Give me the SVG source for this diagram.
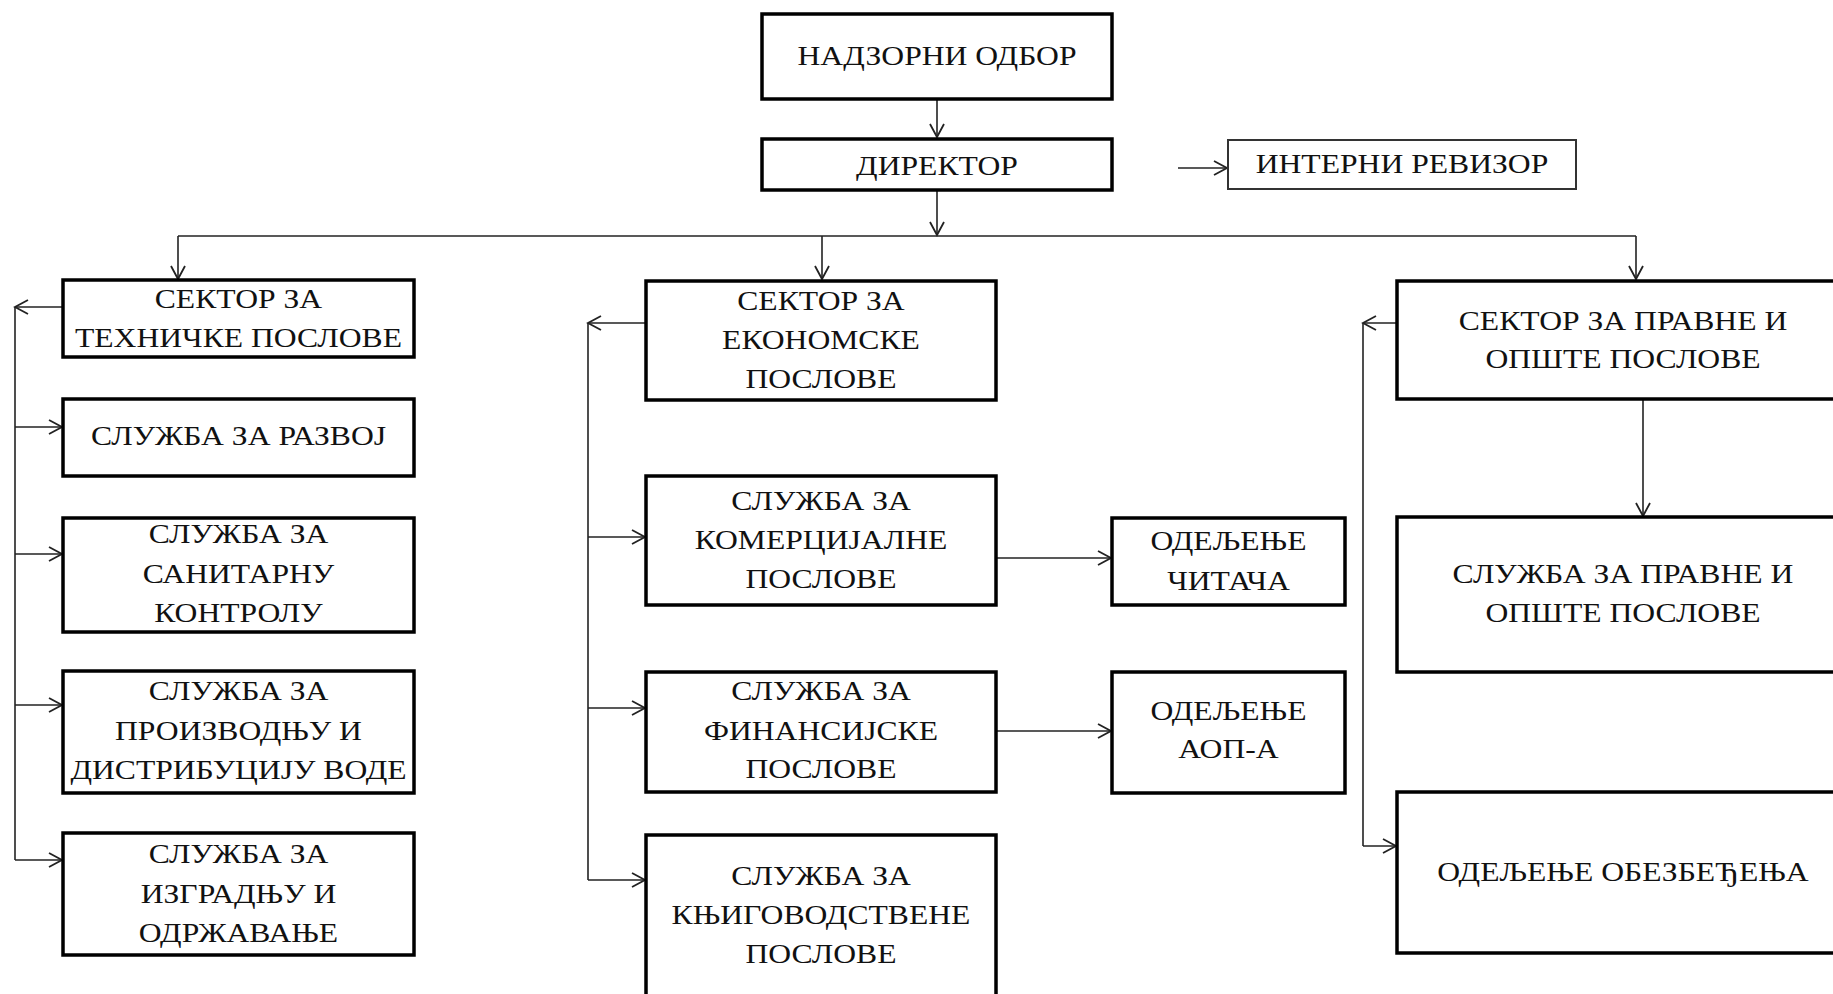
<svg xmlns="http://www.w3.org/2000/svg" width="1833" height="994" viewBox="0 0 1833 994">
<style>
.box{fill:#fff;stroke:#000;stroke-width:3.5}
.thin{fill:#fff;stroke:#333;stroke-width:2}
.t{font-family:"Liberation Serif","Times New Roman",serif;font-size:28px;fill:#111;text-anchor:middle}
.c{fill:none;stroke:#222;stroke-width:1.6}
.a{fill:none;stroke:#222;stroke-width:1.6;marker-end:url(#ah)}
</style>
<defs>
<marker id="ah" markerUnits="userSpaceOnUse" markerWidth="16" markerHeight="18" viewBox="0 0 16 18" refX="14" refY="9" orient="auto">
<path d="M1,2 L14,9 L1,16" fill="none" stroke="#222" stroke-width="1.8"/>
</marker>
</defs>
<rect width="1833" height="994" fill="#fff"/>
<g id="connectors">
<line class="a" x1="937" y1="99" x2="937" y2="137"/>
<line class="a" x1="937" y1="191" x2="937" y2="235"/>
<line class="a" x1="1178" y1="168" x2="1227" y2="168"/>
<line class="c" x1="178" y1="236" x2="1636" y2="236"/>
<line class="a" x1="178" y1="236" x2="178" y2="279"/>
<line class="a" x1="822" y1="236" x2="822" y2="279"/>
<line class="a" x1="1636" y1="236" x2="1636" y2="279"/>
<line class="a" x1="62" y1="307" x2="15" y2="307"/>
<line class="c" x1="15" y1="307" x2="15" y2="860"/>
<line class="a" x1="15" y1="427" x2="62" y2="427"/>
<line class="a" x1="15" y1="554" x2="62" y2="554"/>
<line class="a" x1="15" y1="705" x2="62" y2="705"/>
<line class="a" x1="15" y1="860" x2="62" y2="860"/>
<line class="a" x1="645" y1="323" x2="588" y2="323"/>
<line class="c" x1="588" y1="323" x2="588" y2="880"/>
<line class="a" x1="588" y1="537" x2="645" y2="537"/>
<line class="a" x1="588" y1="708" x2="645" y2="708"/>
<line class="a" x1="588" y1="880" x2="645" y2="880"/>
<line class="a" x1="997" y1="558" x2="1111" y2="558"/>
<line class="a" x1="997" y1="731" x2="1111" y2="731"/>
<line class="a" x1="1396" y1="323" x2="1363" y2="323"/>
<line class="c" x1="1363" y1="323" x2="1363" y2="846"/>
<line class="a" x1="1363" y1="846" x2="1396" y2="846"/>
<line class="a" x1="1643" y1="400" x2="1643" y2="516"/>
</g>
<g id="n1"><rect class="box" x="762" y="14" width="350" height="85"/><g transform="matrix(1.13 0 0 1 -121.81 0)"><text class="t" x="937" y="65">НАДЗОРНИ ОДБОР</text></g></g>
<g id="n2"><rect class="box" x="762" y="139" width="350" height="51"/><g transform="matrix(1.13 0 0 1 -121.81 0)"><text class="t" x="937" y="175">ДИРЕКТОР</text></g></g>
<g id="n3"><rect class="thin" x="1228" y="140" width="348" height="49"/><g transform="matrix(1.13 0 0 1 -182.26 0)"><text class="t" x="1402" y="173">ИНТЕРНИ РЕВИЗОР</text></g></g>
<g id="n4"><rect class="box" x="63" y="280" width="351" height="77"/><g transform="matrix(1.13 0 0 1 -31.005 0)"><text class="t" x="238.5" y="308">СЕКТОР ЗА</text><text class="t" x="238.5" y="347">ТЕХНИЧКЕ ПОСЛОВЕ</text></g></g>
<g id="n5"><rect class="box" x="63" y="399" width="351" height="77"/><g transform="matrix(1.13 0 0 1 -31.005 0)"><text class="t" x="238.5" y="445">СЛУЖБА ЗА РАЗВОЈ</text></g></g>
<g id="n6"><rect class="box" x="63" y="518" width="351" height="114"/><g transform="matrix(1.13 0 0 1 -31.005 0)"><text class="t" x="238.5" y="543">СЛУЖБА ЗА</text><text class="t" x="238.5" y="583">САНИТАРНУ</text><text class="t" x="238.5" y="622">КОНТРОЛУ</text></g></g>
<g id="n7"><rect class="box" x="63" y="671" width="351" height="122"/><g transform="matrix(1.13 0 0 1 -31.005 0)"><text class="t" x="238.5" y="700">СЛУЖБА ЗА</text><text class="t" x="238.5" y="740">ПРОИЗВОДЊУ И</text><text class="t" x="238.5" y="779">ДИСТРИБУЦИЈУ ВОДЕ</text></g></g>
<g id="n8"><rect class="box" x="63" y="833" width="351" height="122"/><g transform="matrix(1.13 0 0 1 -31.005 0)"><text class="t" x="238.5" y="863">СЛУЖБА ЗА</text><text class="t" x="238.5" y="903">ИЗГРАДЊУ И</text><text class="t" x="238.5" y="942">ОДРЖАВАЊЕ</text></g></g>
<g id="n9"><rect class="box" x="646" y="281" width="350" height="119"/><g transform="matrix(1.13 0 0 1 -106.73 0)"><text class="t" x="821" y="310">СЕКТОР ЗА</text><text class="t" x="821" y="349">ЕКОНОМСКЕ</text><text class="t" x="821" y="388">ПОСЛОВЕ</text></g></g>
<g id="n10"><rect class="box" x="646" y="476" width="350" height="129"/><g transform="matrix(1.13 0 0 1 -106.73 0)"><text class="t" x="821" y="510">СЛУЖБА ЗА</text><text class="t" x="821" y="549">КОМЕРЦИЈАЛНЕ</text><text class="t" x="821" y="588">ПОСЛОВЕ</text></g></g>
<g id="n11"><rect class="box" x="646" y="672" width="350" height="120"/><g transform="matrix(1.13 0 0 1 -106.73 0)"><text class="t" x="821" y="700">СЛУЖБА ЗА</text><text class="t" x="821" y="740">ФИНАНСИЈСКЕ</text><text class="t" x="821" y="778">ПОСЛОВЕ</text></g></g>
<g id="n12"><rect class="box" x="646" y="835" width="350" height="200"/><g transform="matrix(1.13 0 0 1 -106.73 0)"><text class="t" x="821" y="885">СЛУЖБА ЗА</text><text class="t" x="821" y="924">КЊИГОВОДСТВЕНЕ</text><text class="t" x="821" y="963">ПОСЛОВЕ</text></g></g>
<g id="n13"><rect class="box" x="1112" y="518" width="233" height="87"/><g transform="matrix(1.13 0 0 1 -159.705 0)"><text class="t" x="1228.5" y="550">ОДЕЉЕЊЕ</text><text class="t" x="1228.5" y="590">ЧИТАЧА</text></g></g>
<g id="n14"><rect class="box" x="1112" y="672" width="233" height="121"/><g transform="matrix(1.13 0 0 1 -159.705 0)"><text class="t" x="1228.5" y="720">ОДЕЉЕЊЕ</text><text class="t" x="1228.5" y="758">АОП-А</text></g></g>
<g id="n15"><rect class="box" x="1397" y="281" width="452" height="118"/><g transform="matrix(1.13 0 0 1 -210.99 0)"><text class="t" x="1623" y="330">СЕКТОР ЗА ПРАВНЕ И</text><text class="t" x="1623" y="368">ОПШТЕ ПОСЛОВЕ</text></g></g>
<g id="n16"><rect class="box" x="1397" y="517" width="452" height="155"/><g transform="matrix(1.13 0 0 1 -210.99 0)"><text class="t" x="1623" y="583">СЛУЖБА ЗА ПРАВНЕ И</text><text class="t" x="1623" y="622">ОПШТЕ ПОСЛОВЕ</text></g></g>
<g id="n17"><rect class="box" x="1397" y="792" width="452" height="161"/><g transform="matrix(1.13 0 0 1 -210.99 0)"><text class="t" x="1623" y="881">ОДЕЉЕЊЕ ОБЕЗБЕЂЕЊА</text></g></g>
</svg>
